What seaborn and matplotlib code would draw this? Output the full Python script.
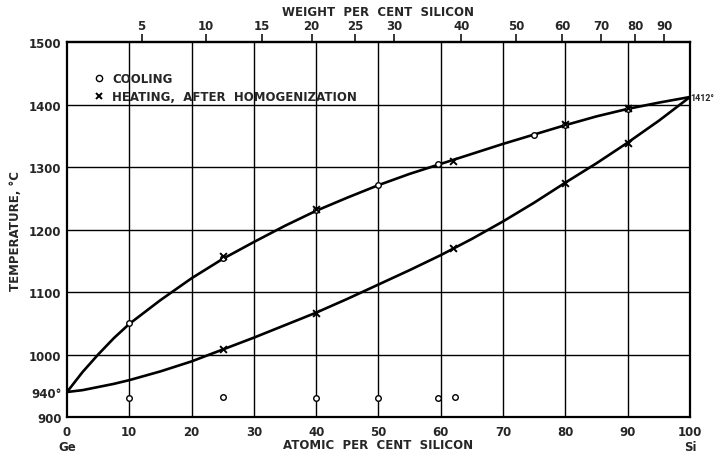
import numpy as np
import pandas as pd
import matplotlib
matplotlib.use("Agg")
import matplotlib.pyplot as plt
import matplotlib.transforms as mtransforms
import seaborn as sns
from matplotlib.lines import Line2D

# Liquidus and solidus (atomic per cent Si, deg C)
curve_at = [0, 2.5, 5, 7.5, 10, 15, 20, 25, 30, 35, 40, 45, 50, 55, 60, 65, 70, 75, 80, 85, 90, 95, 100]
liquidus_t = [940, 972, 1000, 1026, 1049, 1087, 1122, 1153, 1180, 1206, 1230, 1251, 1271, 1289,
              1305, 1321, 1337, 1352, 1367, 1381, 1393, 1403, 1412]
solidus_t = [940, 943, 948, 953, 959, 973, 989, 1008, 1027, 1047, 1067, 1089, 1112, 1135,
             1159, 1185, 1213, 1243, 1275, 1306, 1339, 1374, 1412]

# Measured points
cool_liq_at = [10, 25, 40, 50, 59.5, 75, 80, 90]
cool_liq_t = [1050, 1155, 1231, 1271, 1305, 1352, 1368, 1393]
cool_low_at = [10, 25, 40, 50, 59.5, 62.3]
cool_low_t = [931, 932, 931, 931, 931, 932]
heat_liq_at = [25, 40, 62, 80, 90]
heat_liq_t = [1157, 1233, 1310, 1369, 1394]
heat_sol_at = [25, 40, 62, 80, 90]
heat_sol_t = [1009, 1067, 1170, 1275, 1339]

x_ticks = list(range(0, 101, 10))
y_ticks = [900, 940, 1000, 1100, 1200, 1300, 1400, 1500]
y_tick_labels = ["900", "940\u00b0", "1000", "1100", "1200", "1300", "1400", "1500"]
wt_ticks = [5, 10, 15, 20, 25, 30, 40, 50, 60, 70, 80, 90]
si_melt = 1412

M_SI, M_GE = 28.086, 72.59


def at_to_wt(a):
    a = np.asarray(a, dtype=float)
    with np.errstate(divide="ignore", invalid="ignore"):
        return 100.0 * a * M_SI / (a * M_SI + (100.0 - a) * M_GE)


def wt_to_at(w):
    w = np.asarray(w, dtype=float)
    with np.errstate(divide="ignore", invalid="ignore"):
        return 100.0 * (w / M_SI) / (w / M_SI + (100.0 - w) / M_GE)


sns.set_style("white")
plt.rcParams["font.family"] = ["DejaVu Sans"]
plt.rcParams["font.weight"] = "bold"
plt.rcParams["font.size"] = 8.5

fig = plt.figure(figsize=(7.15, 4.56), dpi=100)
ax = fig.add_axes([0.0937, 0.0833, 0.8713, 0.8224])

curves = pd.DataFrame({"at": curve_at, "liq": liquidus_t, "sol": solidus_t})
sns.lineplot(data=curves, x="at", y="liq", ax=ax, color="black", lw=1.9, sort=False)
sns.lineplot(data=curves, x="at", y="sol", ax=ax, color="black", lw=1.9, sort=False)

circ_kw = dict(marker="o", s=16, facecolor="white", edgecolor="black", linewidth=1.0, zorder=5)
cross_kw = dict(marker="x", s=24, color="black", linewidth=1.4, zorder=6)
sns.scatterplot(x=cool_liq_at, y=cool_liq_t, ax=ax, **circ_kw)
sns.scatterplot(x=cool_low_at, y=cool_low_t, ax=ax, **circ_kw)
sns.scatterplot(x=heat_liq_at, y=heat_liq_t, ax=ax, **cross_kw)
sns.scatterplot(x=heat_sol_at, y=heat_sol_t, ax=ax, **cross_kw)

ax.set_xlim(0, 100)
ax.set_ylim(900, 1500)
ax.set_xticks(x_ticks)
ax.set_yticks(y_ticks)
ax.set_yticklabels(y_tick_labels)
ax.grid(False)
for xv in x_ticks[1:-1]:
    ax.axvline(xv, color="black", lw=1.0, zorder=1)
for yv in [1000, 1100, 1200, 1300, 1400]:
    ax.axhline(yv, color="black", lw=1.0, zorder=1)
for sp in ax.spines.values():
    sp.set_linewidth(1.6)
    sp.set_color("black")
ax.tick_params(axis="x", length=0, pad=6, labelsize=8.5)
ax.tick_params(axis="y", length=0, pad=4, labelsize=8.5)

ax.set_xlabel("ATOMIC  PER  CENT  SILICON", fontsize=8.5, fontweight="bold", labelpad=0)
ax.set_ylabel("TEMPERATURE, \u00b0C", fontsize=8.5, fontweight="bold")
ax.yaxis.set_label_coords(-0.072, 0.5)

ax.annotate("Ge", xy=(0, 900), xytext=(0, -21), textcoords="offset points",
            ha="center", va="center", fontsize=8.5, fontweight="bold")
ax.annotate("Si", xy=(100, 900), xytext=(0, -21), textcoords="offset points",
            ha="center", va="center", fontsize=8.5, fontweight="bold")

# melting point of silicon, set against the right edge of the figure
edge = mtransforms.blended_transform_factory(fig.transFigure, ax.transData)
ax.text(0.999, si_melt, f"{si_melt}\u00b0", transform=edge, ha="right", va="center",
        fontsize=6.5, fontweight="bold", family=["Roboto", "DejaVu Sans"], clip_on=False)

top = ax.secondary_xaxis("top", functions=(at_to_wt, wt_to_at))
top.set_xticks(wt_ticks)
top.set_xticklabels([str(t) for t in wt_ticks])
top.tick_params(direction="out", length=6, width=1.3, pad=1, labelsize=8.5)
top.set_xlabel("WEIGHT  PER  CENT  SILICON", fontsize=8.5, fontweight="bold", labelpad=3)
top.spines["top"].set_linewidth(1.6)

handles = [
    Line2D([], [], ls="none", marker="o", markersize=4.5, markerfacecolor="white",
           markeredgecolor="black", markeredgewidth=1.0),
    Line2D([], [], ls="none", marker="x", markersize=5, color="black", markeredgewidth=1.4),
]
ax.legend(handles, ["COOLING", "HEATING,  AFTER  HOMOGENIZATION"], loc="upper left",
          bbox_to_anchor=(0.042, 0.92), frameon=False, borderpad=0, borderaxespad=0,
          handlelength=1.0, handletextpad=0.6, labelspacing=0.45, fontsize=8.5)

fig.savefig("out.png", dpi=100)
